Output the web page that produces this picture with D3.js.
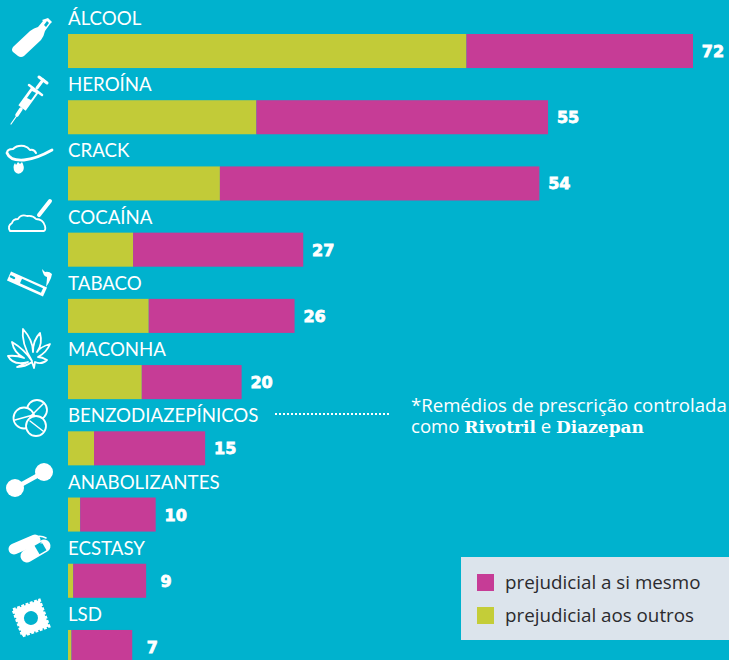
<!DOCTYPE html>
<html>
<head>
<meta charset="utf-8">
<script src="https://cdn.jsdelivr.net/npm/d3@7"></script>
<style>
html, body { margin: 0; padding: 0; background: #00b2ce; overflow: hidden; }
svg { display: block; }
text { font-family: Lato, sans-serif; }
.body_text { font-family: "Open Sans", sans-serif; }
.heavy { font-family: "DejaVu Serif", serif; font-weight: 700; }
.number { font-family: "DejaVu Sans", sans-serif; font-weight: 700; }
</style>
</head>
<body>
<svg id="chart" width="729" height="660"></svg>
<script>
var categories = ["ÁLCOOL", "HEROÍNA", "CRACK", "COCAÍNA", "TABACO", "MACONHA", "BENZODIAZEPÍNICOS", "ANABOLIZANTES", "ECSTASY", "LSD"];
var others = [45.9, 21.7, 17.5, 7.5, 9.3, 8.5, 3, 1.4, 0.6, 0.4];
var self_harm = [26.1, 33.6, 36.8, 19.6, 16.8, 11.5, 12.8, 8.7, 8.4, 7];
var totals = [72, 55, 54, 27, 26, 20, 15, 10, 9, 7];
var legend_labels = ["prejudicial a si mesmo", "prejudicial aos outros"];

var BG = "#00b2ce", OLIVE = "#c2cb38", MAGENTA = "#c63c96";

var svg = d3.select("#chart");
svg.append("rect").attr("width", 729).attr("height", 660).attr("fill", BG);

var x = d3.scaleLinear().domain([0, 72]).range([68, 693]);
var y = d3.scaleBand().domain(categories).range([34, 664]).paddingInner(0.486).paddingOuter(0);

var rows = categories.map(function(c, i) {
    return {name: c, others: others[i], self: self_harm[i], total: totals[i]};
});

var row = svg.append("g").selectAll("g").data(rows).enter().append("g");

row.append("rect")
    .attr("x", x(0))
    .attr("y", d => y(d.name))
    .attr("width", d => x(d.others) - x(0))
    .attr("height", y.bandwidth())
    .attr("fill", OLIVE);

row.append("rect")
    .attr("x", d => x(d.others))
    .attr("y", d => y(d.name))
    .attr("width", d => x(d.others + d.self) - x(d.others))
    .attr("height", y.bandwidth())
    .attr("fill", MAGENTA);

row.append("text")
    .attr("x", x(0))
    .attr("y", d => y(d.name) - 9)
    .attr("fill", "#fff")
    .attr("font-size", 18.7)
    .text(d => d.name);

row.append("text")
    .attr("class", "number")
    .attr("x", d => x(d.others + d.self) + 20)
    .attr("y", d => y(d.name) + 23)
    .attr("text-anchor", "middle")
    .attr("fill", "#fff")
    .attr("font-size", 16)
    .attr("stroke", "#fff")
    .attr("stroke-width", 0.8)
    .text(d => d.total);

// leader and note for benzodiazepinicos
svg.append("line")
    .attr("x1", 275).attr("x2", 390)
    .attr("y1", 414).attr("y2", 414)
    .attr("stroke", "#fff")
    .attr("stroke-width", 2)
    .attr("stroke-dasharray", "2,2");

var note = svg.append("g").attr("fill", "#fff").attr("font-size", 18.6);
note.append("text").attr("class", "body_text").attr("x", 411).attr("y", 412).text("*Remédios de prescrição controlada");
var note2 = note.append("text").attr("class", "body_text").attr("x", 411).attr("y", 433);
note2.append("tspan").text("como ");
note2.append("tspan").attr("class", "heavy").attr("font-size", 17).text("Rivotril");
note2.append("tspan").text(" e ");
note2.append("tspan").attr("class", "heavy").attr("font-size", 17).text("Diazepan");

// legend
svg.append("rect").attr("x", 461).attr("y", 557).attr("width", 268).attr("height", 83).attr("fill", "#dce4ec");
var legend = svg.append("g").selectAll("g").data(legend_labels).enter().append("g")
    .attr("transform", (d, i) => "translate(477," + (574 + i * 33) + ")");
legend.append("rect").attr("width", 17).attr("height", 17).attr("fill", (d, i) => i == 0 ? MAGENTA : "#c4cd38");
legend.append("text").attr("class", "body_text").attr("x", 28).attr("y", 15).attr("fill", "#2b2a2e").attr("font-size", 18.8).text(d => d);

// icons, drawn by hand in picture pixels
var icons = svg.append("g");
function fill_path(d) { return icons.append("path").attr("d", d).attr("fill", "#fff"); }
function line_path(d, w) {
    return icons.append("path").attr("d", d).attr("fill", "none").attr("stroke", "#fff")
        .attr("stroke-width", w).attr("stroke-linecap", "round").attr("stroke-linejoin", "round");
}

// bottle
fill_path("M13,47 L30,31 Q34,28 38,27 L43,21 L42,20 L48,18 L52,22 L50,24 L45,31 Q44,36 41,40 L24,56 Q21,58 18,56 L13,52 Q11,50 13,47Z");
icons.append("path").attr("d", "M44,25 L47,21 L49,23 L46,27Z").attr("fill", BG);

// syringe
line_path("M11,124 L18,114", 1.2);
line_path("M17,115 L21,109", 3.5);
line_path("M22,108 L35,90", 9).attr("stroke-linecap", "butt");
icons.append("path").attr("d", "M27,98 L32,91 L36,93 L31,100Z").attr("fill", BG);
line_path("M29,85 L42,95", 2.5);
line_path("M37,88 L43,80", 3);
line_path("M39,77 L47,83", 3);

// spoon with crack and flame
line_path("M7,153 Q7,149 13,149 Q17,145 24,146 Q28,147 30,150 Q34,149 36,153", 2);
line_path("M7,153 Q10,161 24,160 Q36,159 52,150", 2.8);
fill_path("M18,162 L20,164 L22,162 Q25,167 23,171 Q19,176 15,172 Q12,167 15,163 L16,165Z");

// cocaine
line_path("M10,231 Q7,226 12,223 Q13,219 18,219 Q21,214 27,216 Q33,215 36,219 Q43,219 45,226 Q46,230 44,231Z", 1.8);
line_path("M39,215 L50,201", 4);

// cigarette
line_path("M9,276 L45,292", 10).attr("stroke-linecap", "butt");
line_path("M21,281 L42,290.5", 5).attr("stroke", BG).attr("stroke-linecap", "butt");
line_path("M11,276.5 L14,278", 2.5).attr("stroke", BG);
fill_path("M42,269 L45,272 Q49,271 52,274 L51,278 Q49,283 46,287 Q47,280 47,277 Q43,276 42,269Z");

// cannabis leaf
line_path("M32,361 Q24,349 12,342 Q14,353 24,358 Q16,355 8,356 Q13,366 28,362 L17,367 Q25,367 32,362 L34,368 L35,362 Q42,365 47,360 Q42,357 38,357 Q47,352 50,344 Q40,347 37,352 Q43,344 40,333 Q33,340 33,352 Q33,340 23,329 Q21,343 32,361Z", 1.8);

// pills
[[37, 410, 10], [24, 418, 10.5], [36, 426, 10]].forEach(function(c) {
    icons.append("circle").attr("cx", c[0]).attr("cy", c[1]).attr("r", c[2])
        .attr("fill", BG).attr("stroke", "#fff").attr("stroke-width", 1.8);
});
line_path("M30,417 L44,403", 1.5);
line_path("M15,420 L33,415", 1.5);
line_path("M30,421 L43,431", 1.5);

// dumbbell
icons.append("circle").attr("cx", 15).attr("cy", 488).attr("r", 9).attr("fill", "#fff");
icons.append("circle").attr("cx", 44).attr("cy", 472).attr("r", 9).attr("fill", "#fff");
line_path("M15,488 L44,472", 4.5);

// capsules
line_path("M14,549 L35,540", 11);
line_path("M27,556 L44,546", 13);
line_path("M37,550 L44,546", 10).attr("stroke", BG).attr("stroke-linecap", "butt");
line_path("M41,543 Q47,541 48,546", 1.2);
line_path("M35,537 Q41,535 46,538", 1.5);

// lsd stamp
var stamp = icons.append("g").attr("transform", "translate(31,618) rotate(-20)");
stamp.append("rect").attr("x", -14).attr("y", -14).attr("width", 28).attr("height", 28)
    .attr("fill", "#fff").attr("stroke", "#fff").attr("stroke-width", 3).attr("stroke-dasharray", "3,1.5");
stamp.append("circle").attr("r", 7).attr("fill", BG);
</script>
</body>
</html>
